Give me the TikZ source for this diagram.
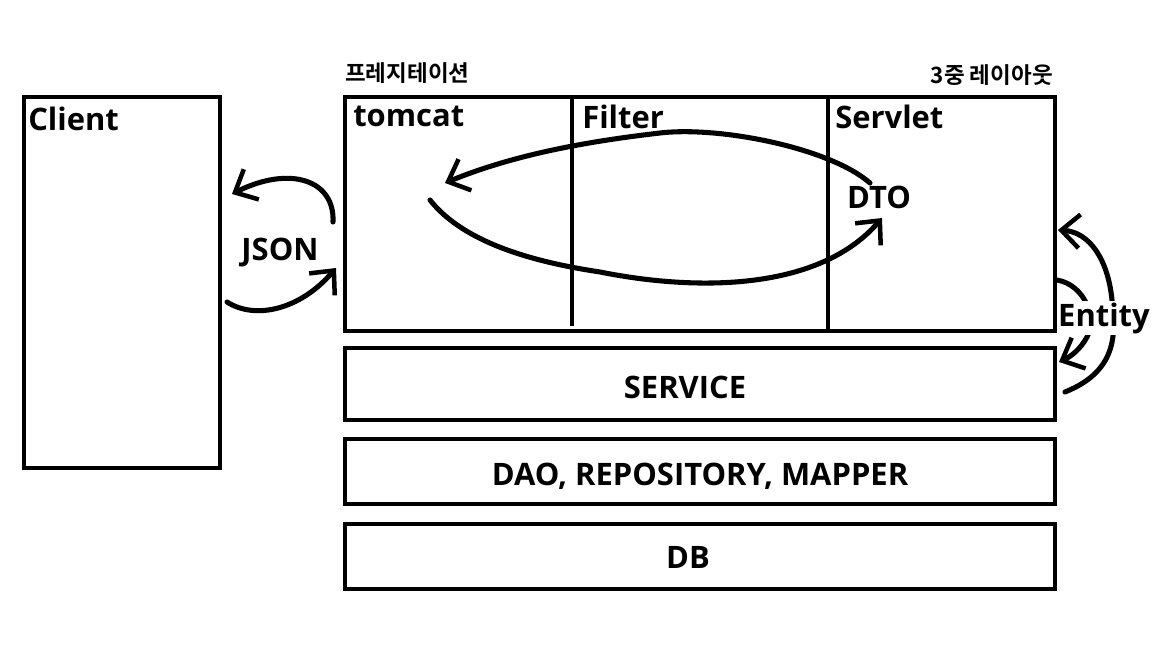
\documentclass[tikz,border=0pt]{standalone}
\usepackage{fontspec}
\usepackage{tikz}
\usetikzlibrary{arrows.meta}
\setmainfont{Open Sans}
\newfontfamily\kr{Noto Sans CJK KR}[BoldFont={* Bold}]

\tikzset{
  layer/.style={draw, line width=2.8pt, minimum width=17.75cm},
  tag/.style={font=\fontsize{22}{26}\selectfont\bfseries, inner sep=0pt},
  krtag/.style={font=\kr\fontsize{16}{19}\selectfont\bfseries, inner sep=0pt},
  pen/.style={line width=3.6pt, line cap=round, line join=round},
  hook/.style={pen, -{Straight Barb[length=13pt, width=24pt, line width=3.2pt]}}
}

\begin{document}
\begin{tikzpicture}[x=0.025cm, y=-0.025cm]
\useasboundingbox (0,0) rectangle (1152,648);
% boxes
\node[draw, line width=2.8pt, minimum width=4.9cm, minimum height=9.275cm] (client) at (122,282.5) {};
\node[layer, minimum height=5.85cm] (pres) at (700,214) {};
\node[layer, minimum height=1.8cm] (service) at (700,384) {};
\node[layer, minimum height=1.625cm] (dao) at (700,471.5) {};
\node[layer, minimum height=1.625cm] (db) at (700,556.5) {};
\coordinate (f1) at (572,97);
\coordinate (f2) at (572,326);
\coordinate (s1) at (828,97);
\coordinate (s2) at (828,331);
\draw[line width=2.8pt] (f1)--(f2);
\draw[line width=2.8pt] (s1)--(s2);
% labels
\node[tag, anchor=west] (clientlbl) at (28,119) {Client};
\node[tag, anchor=west] (tomcat) at (353,116) {tomcat};
\node[tag, anchor=west] (filter) at (582,117) {Filter};
\node[tag, anchor=west] (servlet) at (835,117) {Servlet};
\node[tag] (servicelbl) at (685,387) {SERVICE};
\node[tag] (daolbl) at (700,476) {DAO, REPOSITORY, MAPPER};
\node[tag] (dblbl) at (688,557) {DB};
\node[krtag, anchor=west] (presname) at (345,73) {프레지테이션};
\node[krtag, anchor=east] (tier) at (1053,75) {3중 레이아웃};
% JSON
\coordinate (j1) at (333,222);
\coordinate (j2) at (232,194);
\coordinate (j3) at (227,302);
\coordinate (j4) at (336,268);
\draw[hook] (j1) .. controls (335,180) and (290,165) .. (j2);
\draw[hook] (j3) .. controls (255,320) and (300,310) .. (j4);
\node[tag] (json) at (280,253) {JSON};
% DTO
\coordinate (d1) at (870,183);
\coordinate (d2) at (445,183);
\coordinate (d3) at (430,200);
\coordinate (d4) at (882,218);
\draw[hook] (d1) .. controls (830,148) and (720,126) .. (660,133) .. controls (600,140) and (520,152) .. (d2);
\draw[hook] (d3) .. controls (460,238) and (520,260) .. (600,272) .. controls (700,292) and (820,290) .. (d4);
\node[tag] (dto) at (879,197) {DTO};
% Entity
\coordinate (e1) at (1065,392);
\coordinate (e2) at (1058,230);
\coordinate (e3) at (1057,280);
\coordinate (e4) at (1059,362);
\draw[hook] (e1) .. controls (1120,370) and (1115,330) .. (1112,300) .. controls (1108,260) and (1090,232) .. (e2);
\draw[hook] (e3) .. controls (1085,285) and (1097,318) .. (1087,337) .. controls (1080,350) and (1070,357) .. (e4);
\node[tag, fill=white, inner sep=1pt] (entity) at (1104,318) {Entity};
\end{tikzpicture}
\end{document}
